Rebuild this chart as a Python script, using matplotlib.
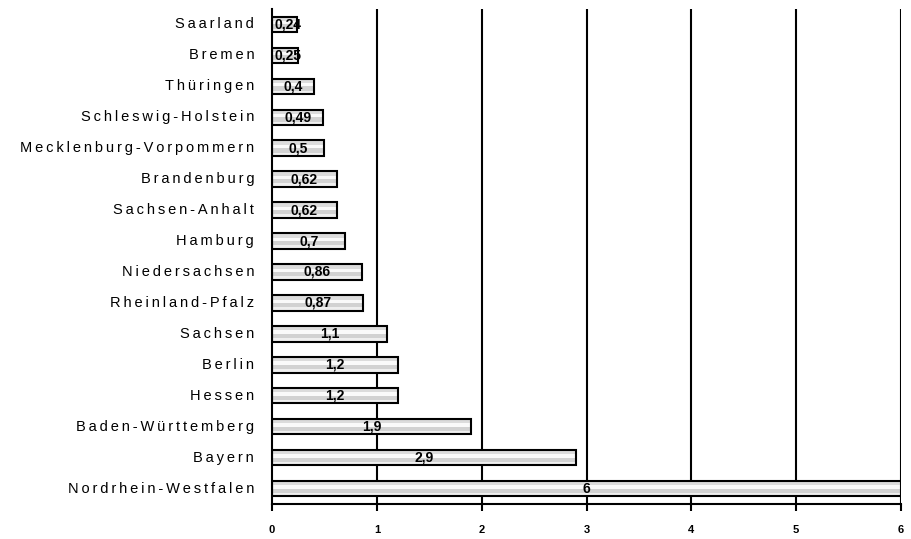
import numpy as np
import matplotlib.pyplot as plt

# Bundesländer, bottom to top
states = ["Nordrhein-Westfalen", "Bayern", "Baden-Württemberg", "Hessen", "Berlin",
          "Sachsen", "Rheinland-Pfalz", "Niedersachsen", "Hamburg", "Sachsen-Anhalt",
          "Brandenburg", "Mecklenburg-Vorpommern", "Schleswig-Holstein", "Thüringen",
          "Bremen", "Saarland"]
values = [6, 2.9, 1.9, 1.2, 1.2, 1.1, 0.87, 0.86, 0.7, 0.62, 0.62, 0.5, 0.49, 0.4, 0.25, 0.24]
value_labels = ["6", "2,9", "1,9", "1,2", "1,2", "1,1", "0,87", "0,86", "0,7", "0,62",
                "0,62", "0,5", "0,49", "0,4", "0,25", "0,24"]
xticks = [0, 1, 2, 3, 4, 5, 6]

plt.rcParams['font.family'] = ['Liberation Sans', 'DejaVu Sans']

fig = plt.figure(figsize=(9.11, 5.39), dpi=100)
ax = fig.add_axes([272 / 911, 35 / 539, 629 / 911, 495 / 539])

y = np.arange(len(states))
h = 0.5

# vertical grid first so bars sit on top
for xv in xticks[1:]:
    ax.axvline(xv, color="black", lw=1.5, zorder=1)

# striped fill: (top fraction, bottom fraction, colour)
stripes = [(0.0, 0.28, "#dcdcdc"), (0.28, 0.5, "#fafafa"),
           (0.5, 0.78, "#d2d2d2"), (0.78, 1.0, "#efefef")]
top = y + h / 2
for f0, f1, col in stripes:
    ax.barh(top - h * f1, values, height=h * (f1 - f0), align="edge",
            color=col, edgecolor="none", zorder=2)
ax.barh(y, values, height=h, color="none", edgecolor="black", lw=1.5, zorder=3)

for yi, v, lab in zip(y, values, value_labels):
    ax.text(v / 2 if v > 0.3 else 0.15, yi, lab, ha="center", va="center",
            fontsize=10, fontweight="bold", zorder=4)

# spaced-out category labels
for yi, name in zip(y, states):
    ax.text(-0.17, yi, "\u2009".join(name), ha="right", va="center", fontsize=10.5)

ax.set_xlim(0, 6)
ax.set_ylim(-0.5, len(states) - 0.5)
ax.set_yticks([])
ax.set_xticks(xticks)
ax.set_xticklabels([str(t) for t in xticks], fontsize=8, fontweight="bold")
ax.tick_params(axis="x", direction="out", length=5, width=1.5, pad=10)
for s in ["top", "right"]:
    ax.spines[s].set_visible(False)
for s in ["left", "bottom"]:
    ax.spines[s].set_linewidth(1.5)

fig.savefig("out.png", dpi=100)
